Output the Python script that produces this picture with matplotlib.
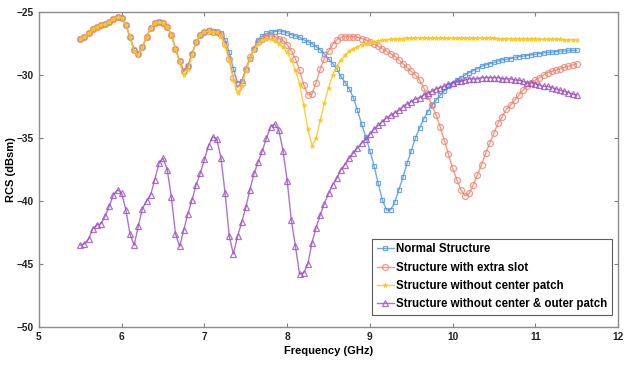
import numpy as np
import matplotlib
matplotlib.use("Agg")
import matplotlib.pyplot as plt

# Frequency grid (GHz), 0.05 GHz step
freq = np.linspace(5.5, 11.5, 121)

# RCS values (dBsm)
normal = [
    -27.1, -27.0, -26.7, -26.35, -26.2, -26.0, -25.95, -25.8, -25.55, -25.4,
    -25.45, -26.0, -27.0, -28.0, -28.3, -27.75, -27.0, -26.25, -25.9, -25.8,
    -25.9, -26.2, -26.8, -27.9, -28.9, -29.7, -29.3, -28.3, -27.4, -26.8,
    -26.6, -26.45, -26.5, -26.55,
    -26.7, -27.2, -28.2, -29.5, -30.6, -30.5, -29.6, -28.7, -27.9, -27.2,
    -26.9, -26.7, -26.6, -26.55, -26.5, -26.55, -26.65, -26.8, -26.9, -27.0,
    -27.2, -27.35, -27.5, -27.75, -28.0, -28.35, -28.7, -29.1, -29.5, -30.1,
    -30.6, -31.1, -31.8, -32.8, -33.9, -34.9, -36.0, -37.2, -38.6, -39.9,
    -40.7, -40.7, -40.1, -39.1, -38.1, -37.0, -36.0, -35.0, -34.2, -33.5,
    -32.9, -32.4, -32.0, -31.6, -31.25, -30.9, -30.7, -30.4, -30.2, -30.0,
    -29.8, -29.65, -29.5, -29.3, -29.2, -29.1, -29.0, -28.9, -28.8, -28.75,
    -28.7, -28.6, -28.55, -28.5, -28.45, -28.4, -28.35, -28.3, -28.25, -28.2,
    -28.2, -28.15, -28.1, -28.1, -28.05, -28.05, -28.05,
]

extra_slot = [
    -27.1, -27.0, -26.7, -26.35, -26.2, -26.0, -25.95, -25.8, -25.55, -25.4,
    -25.45, -26.0, -27.0, -28.0, -28.3, -27.75, -27.0, -26.25, -25.9, -25.8,
    -25.9, -26.2, -26.8, -27.9, -28.9, -29.7, -29.3, -28.3, -27.4, -26.8,
    -26.6, -26.5, -26.6, -26.6,
    -26.8, -27.5, -28.7, -30.2, -31.0, -30.6, -29.5, -28.6, -27.9, -27.4,
    -27.1, -26.95, -26.9, -26.95, -27.1, -27.25, -27.6, -28.1, -28.7, -29.6,
    -30.8, -31.55, -31.5, -30.6, -29.5, -28.7, -28.1, -27.6, -27.2, -27.0,
    -26.95, -26.95, -26.95, -27.0, -27.1, -27.2, -27.35, -27.5, -27.7, -27.9,
    -28.1, -28.3, -28.5, -28.8, -29.1, -29.4, -29.7, -30.0, -30.4, -31.0,
    -31.7, -32.4, -33.2, -34.1, -35.2, -36.3, -37.4, -38.3, -39.1, -39.6,
    -39.4, -38.7, -37.9, -37.1, -36.2, -35.4, -34.6, -33.8, -33.3, -32.7,
    -32.4, -32.0, -31.6, -31.2, -30.9, -30.6, -30.4, -30.2, -30.0, -29.8,
    -29.7, -29.6, -29.5, -29.4, -29.3, -29.2, -29.1,
]

no_center = [
    -27.1, -27.0, -26.7, -26.35, -26.2, -26.0, -25.95, -25.8, -25.55, -25.4,
    -25.45, -26.0, -27.0, -28.1, -28.4, -27.8, -27.0, -26.25, -25.9, -25.8,
    -25.9, -26.2, -26.8, -27.9, -29.0, -30.0, -29.6, -28.4, -27.4, -26.8,
    -26.6, -26.5, -26.6, -26.6,
    -26.9, -27.7, -28.9, -30.4, -31.4, -30.9, -29.7, -28.7, -28.0, -27.5,
    -27.2, -27.1, -27.15, -27.3, -27.5, -27.8, -28.2, -28.8, -29.6, -30.7,
    -32.4, -34.3, -35.6, -35.0, -33.6, -32.2, -31.0, -30.0, -29.3, -28.8,
    -28.4, -28.1, -27.9, -27.75, -27.6, -27.5, -27.4, -27.35, -27.3, -27.25,
    -27.2, -27.15, -27.15, -27.1, -27.1, -27.05, -27.05, -27.05, -27.05, -27.05,
    -27.05, -27.05, -27.05, -27.05, -27.05, -27.05, -27.05, -27.05, -27.05, -27.05,
    -27.05, -27.05, -27.05, -27.05, -27.05, -27.05, -27.05, -27.1, -27.1, -27.1,
    -27.1, -27.1, -27.1, -27.1, -27.1, -27.1, -27.1, -27.15, -27.15, -27.15,
    -27.15, -27.15, -27.15, -27.2, -27.2, -27.2, -27.2,
]

no_center_outer = [
    -43.5, -43.4, -43.0, -42.2, -41.9, -41.8, -41.2, -40.4, -39.5, -39.1,
    -39.4, -40.7, -42.6, -43.5, -42.0, -40.6, -40.0, -39.5, -38.3, -37.0,
    -36.6, -37.5, -39.7, -42.6, -43.6, -42.3, -41.0, -39.9, -38.7, -37.8,
    -36.7, -35.6, -34.9, -35.1, -36.6, -39.4, -42.8, -44.2, -42.8, -41.7,
    -40.5, -39.1, -37.8, -36.9, -36.0, -35.0, -34.1, -33.9, -34.4, -36.0,
    -38.4, -41.5, -43.6, -45.8, -45.7, -45.0, -43.3, -42.1, -41.1, -40.2,
    -39.4, -38.7, -38.2, -37.5, -37.1, -36.6, -36.2, -35.8, -35.4, -35.1,
    -34.7, -34.3, -34.0, -33.7, -33.4, -33.2, -33.0, -32.8, -32.5, -32.3,
    -32.1, -31.9, -31.8, -31.6, -31.4, -31.3, -31.1, -31.0, -30.9, -30.7,
    -30.6, -30.5, -30.5, -30.4, -30.3, -30.3, -30.3, -30.2, -30.2, -30.2,
    -30.2, -30.2, -30.3, -30.3, -30.3, -30.4, -30.4, -30.5, -30.6, -30.6,
    -30.7, -30.8, -30.9, -30.9, -31.0, -31.1, -31.2, -31.3, -31.4, -31.5, -31.6,
]

labels = ['Normal Structure', 'Structure with extra slot',
          'Structure without center patch', 'Structure without center & outer patch']

x_ticks = [5, 6, 7, 8, 9, 10, 11, 12]
y_ticks = [-50, -45, -40, -35, -30, -25]

plt.rcParams['font.family'] = ['Liberation Sans', 'DejaVu Sans']
plt.rcParams['font.weight'] = 'bold'

fig = plt.figure(figsize=(6.24, 3.65), dpi=100)
ax = fig.add_axes([0.0625, 0.104, 0.928, 0.863])

ax.plot(freq, normal, color='#4d95e2', lw=1.0, marker='s', ms=3.0,
        mfc='none', mew=0.9, alpha=0.8, label=labels[0])
ax.plot(freq, extra_slot, color='#f0806a', lw=1.0, marker='o', ms=4.3,
        mfc='none', mew=0.9, alpha=0.8, label=labels[1])
ax.plot(freq, no_center, color='#fcc819', lw=1.0, marker='*', ms=3.4,
        mew=0.6, alpha=0.85, label=labels[2])
ax.plot(freq, no_center_outer, color='#9a50c0', lw=1.0, marker='^', ms=4.0,
        mfc='none', mew=0.9, alpha=0.8, label=labels[3])

ax.set_xlim(5, 12)
ax.set_ylim(-50, -25)
ax.set_xticks(x_ticks)
ax.set_yticks(y_ticks)
ax.tick_params(direction='in', length=3, width=0.8, colors='#7f7f7f',
               labelcolor='#222222', labelsize=7.3, top=True, right=True)
for lbl in ax.get_xticklabels() + ax.get_yticklabels():
    lbl.set_fontweight('bold')
for s in ax.spines.values():
    s.set_color('#8c8c8c')
    s.set_linewidth(1.0)

ax.set_xlabel('Frequency (GHz)', fontsize=8, fontweight='bold', labelpad=3)
ax.set_ylabel('RCS (dBsm)', fontsize=8, fontweight='bold', labelpad=1)

leg = ax.legend(loc='lower right', bbox_to_anchor=(0.99, 0.038), fontsize=8.3,
                frameon=True, fancybox=False, handlelength=1.5,
                handletextpad=0.2, borderpad=0.4, labelspacing=0.55,
                borderaxespad=0.0)
leg.get_frame().set_edgecolor('#333333')
leg.get_frame().set_linewidth(0.8)
for t in leg.get_texts():
    t.set_fontweight('bold')

fig.savefig('out.png', dpi=100)
